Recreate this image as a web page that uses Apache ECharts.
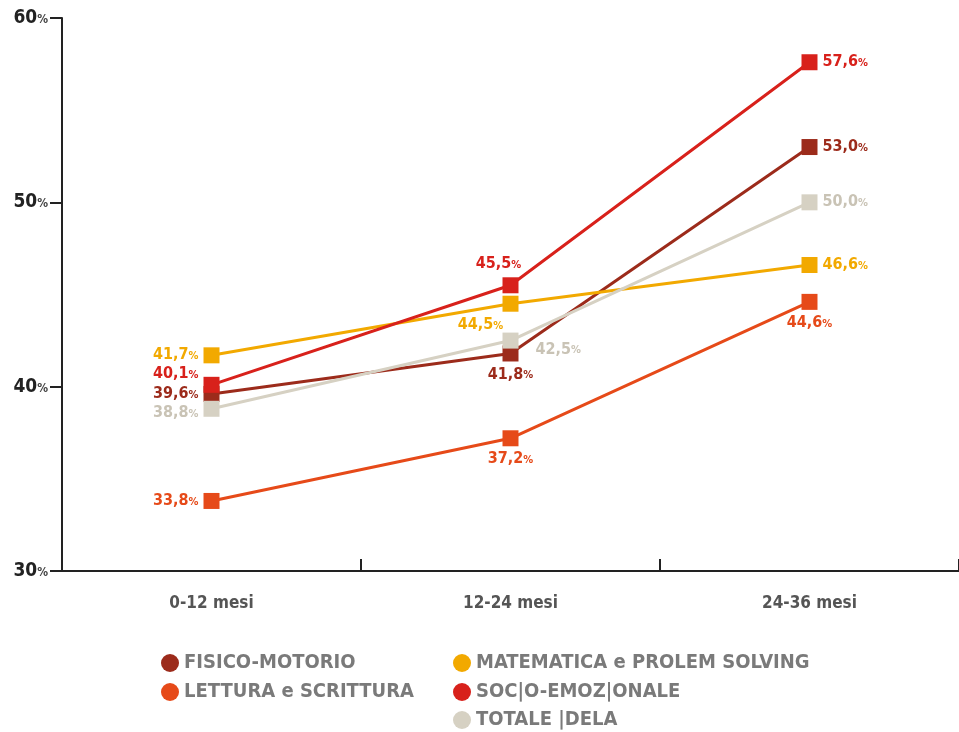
<!DOCTYPE html>
<html>
<head>
<meta charset="utf-8">
<script src="https://cdn.jsdelivr.net/npm/echarts@6/dist/echarts.min.js"></script>
<style>html,body{margin:0;padding:0;background:#fff}#c{width:959px;height:732px}</style>
</head>
<body>
<div id="c"></div>
<script>
const categories = ['0-12 mesi', '12-24 mesi', '24-36 mesi'];
const legendLabels = ['FISICO-MOTORIO', 'LETTURA e SCRITTURA', 'MATEMATICA e PROLEM SOLVING', 'SOC|O-EMOZ|ONALE', 'TOTALE |DELA'];
const fisico = [39.6, 41.8, 53.0];
const lettura = [33.8, 37.2, 44.6];
const matematica = [41.7, 44.5, 46.6];
const socio = [40.1, 45.5, 57.6];
const totale = [38.8, 42.5, 50.0];
const yTicks = [30, 40, 50, 60];

const colors = ['#9c2b1b', '#e64a19', '#f2a900', '#d8211b', '#d6d1c3'];
const labelColors = ['#9c2b1b', '#e64a19', '#f2a900', '#d8211b', '#c9c3b5'];
const allData = [fisico, lettura, matematica, socio, totale];
// label placement per point (style only)
const labelPos = [
  [{p:'left',o:[0,0]}, {p:'bottom',o:[0,0]}, {p:'right',o:[0,0]}],
  [{p:'left',o:[0,0]}, {p:'bottom',o:[0,0]}, {p:'bottom',o:[0,0]}],
  [{p:'left',o:[0,0]}, {p:'bottom',o:[-30,0]}, {p:'right',o:[0,0]}],
  [{p:'left',o:[0,-11]}, {p:'top',o:[-12,0]}, {p:'right',o:[0,0]}],
  [{p:'left',o:[0,4]}, {p:'right',o:[12,9]}, {p:'right',o:[0,0]}]
];
// legend item placement (style only)
const legendPlace = [[161, 653], [161, 682], [453, 653], [453, 682], [453, 710]];
const font = '"DejaVu Sans Condensed", "Liberation Sans Narrow", sans-serif';

const series = allData.map((d, i) => ({
  name: legendLabels[i],
  type: 'line',
  data: d.map((v, j) => ({
    value: v,
    label: {
      show: true,
      position: labelPos[i][j].p,
      offset: labelPos[i][j].o,
      distance: 5,
      formatter: p => '{n|' + p.value.toFixed(1).replace('.', ',') + '}{p|%}',
      rich: {
        n: {fontFamily: font, fontWeight: 'bold', fontSize: 16, color: labelColors[i]},
        p: {fontFamily: font, fontWeight: 'bold', fontSize: 11, color: labelColors[i], padding:[2,0,0,0]}
      }
    }
  })),
  symbol: 'rect',
  symbolSize: 16,
  lineStyle: {width: 3, color: colors[i]},
  itemStyle: {color: colors[i]},
  z: 2 + i
}));

const legendText = {fontFamily: font, fontWeight: 'bold', fontSize: 20, lineHeight: 20, color: '#7a7a7a'};
const legends = legendLabels.map((name, i) => ({
  data: [name],
  left: legendPlace[i][0], top: legendPlace[i][1],
  padding: 0,
  icon: 'circle', itemWidth: 18, itemHeight: 18,
  textStyle: legendText
}));

const chart = echarts.init(document.getElementById('c'));
chart.setOption({
  animation: false,
  color: colors,
  grid: {left: 62, top: 18, bottom: 161, width: 900},
  xAxis: {
    type: 'category',
    data: categories,
    boundaryGap: true,
    axisLine: {lineStyle: {color: '#222', width: 2}},
    axisTick: {show: true, inside: true, length: 12, lineStyle: {color: '#222', width: 2}},
    axisLabel: {margin: 24, fontFamily: font, fontWeight: 'bold', fontSize: 17, color: '#555'}
  },
  yAxis: {
    type: 'value',
    min: yTicks[0], max: yTicks[yTicks.length - 1], interval: 10,
    axisLine: {show: true, lineStyle: {color: '#222', width: 2}},
    axisTick: {show: true, length: 12, lineStyle: {color: '#222', width: 2}},
    splitLine: {show: false},
    axisLabel: {
      margin: 14,
      formatter: v => '{n|' + v + '}{p|%}',
      rich: {
        n: {fontFamily: font, fontWeight: 'bold', fontSize: 19, color: '#222'},
        p: {fontFamily: font, fontWeight: 'bold', fontSize: 12, color: '#444', padding:[4,0,0,0]}
      }
    }
  },
  legend: legends,
  series: series
});
</script>
</body>
</html>
